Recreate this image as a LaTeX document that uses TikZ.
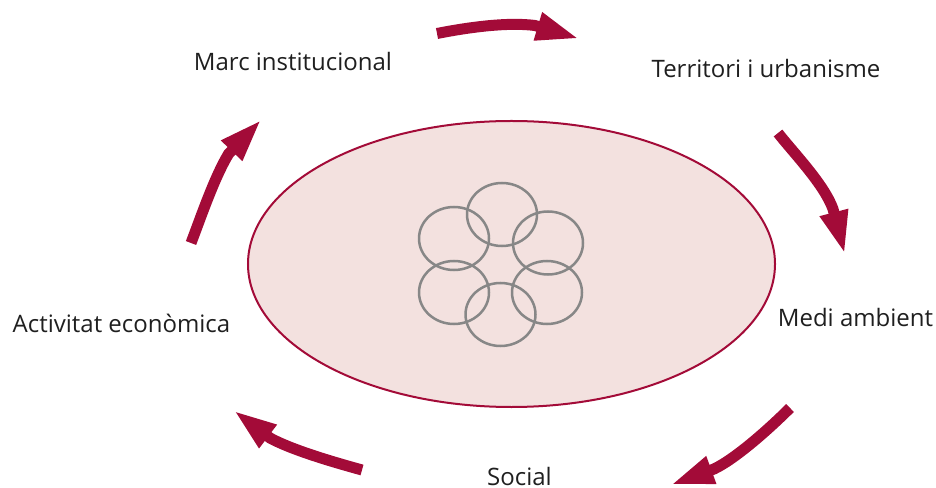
\documentclass[tikz,border=0pt]{standalone}
\usepackage{fontspec}
\setmainfont{Open Sans}
\usepackage{tikz}
\usetikzlibrary{arrows.meta,shapes.geometric}
\definecolor{granat}{HTML}{A30B38}
\definecolor{rosa}{HTML}{F3E1DF}
\definecolor{gris}{HTML}{878787}

\begin{document}
\begin{tikzpicture}[x=1bp,y=-1bp,
	etiqueta/.style={anchor=base,inner sep=0pt,text=black!88,font=\fontsize{24bp}{28bp}\selectfont},
	cercle/.style={shape=ellipse,draw=gris,line width=2.5bp,minimum width=70bp,minimum height=63bp,inner sep=0pt},
	fletxa/.style={draw=granat,line width=11bp,-{Triangle[length=44bp,width=26bp]}}]
	\useasboundingbox (0,0) rectangle (936,488);

	\node[shape=ellipse,draw=granat,fill=rosa,line width=2bp,minimum width=527bp,minimum height=286bp,inner sep=0pt] (nucli) at (511.5,264) {};

	\node[cercle] (c1) at (502,214.5) {};
	\node[cercle] (c2) at (548,243) {};
	\node[cercle] (c3) at (547,292.5) {};
	\node[cercle] (c4) at (500.5,314.5) {};
	\node[cercle] (c5) at (454,292.5) {};
	\node[cercle] (c6) at (454,238.5) {};

	\node[etiqueta] (marc) at (293,70.7) {Marc institucional};
	\node[etiqueta] (territori) at (766,78) {Territori i urbanisme};
	\node[etiqueta] (medi) at (855.5,327) {Medi ambient};
	\node[etiqueta] (social) at (519.5,485) {Social};
	\node[etiqueta] (activitat) at (121.5,333) {Activitat econòmica};

	\coordinate (f1a) at (437,33.5);
	\coordinate (f1m) at (535,25.5);
	\coordinate (f1b) at (580,39);
	\coordinate (f2a) at (778,133);
	\coordinate (f2m) at (833,209);
	\coordinate (f2b) at (845,255);
	\coordinate (f3a) at (790,408);
	\coordinate (f3m) at (714,469);
	\coordinate (f3b) at (670,485);
	\coordinate (f4a) at (362,470);
	\coordinate (f4m) at (270,438);
	\coordinate (f4b) at (233,410);
	\coordinate (f5a) at (191,243);
	\coordinate (f5m) at (228.5,154);
	\coordinate (f5b) at (262,119);

	\draw[fletxa] (f1a) .. controls (470,27) and (508,22) .. (f1m) -- (f1b);
	\draw[fletxa] (f2a) .. controls (793.4,152.7) and (824,184) .. (f2m) -- (f2b);
	\draw[fletxa] (f3a) .. controls (772.3,425.7) and (737,458) .. (f3m) -- (f3b);
	\draw[fletxa] (f4a) .. controls (338,463.3) and (294,451) .. (f4m) -- (f4b);
	\draw[fletxa] (f5a) .. controls (200,219.7) and (214,178) .. (f5m) -- (f5b);
\end{tikzpicture}
\end{document}
